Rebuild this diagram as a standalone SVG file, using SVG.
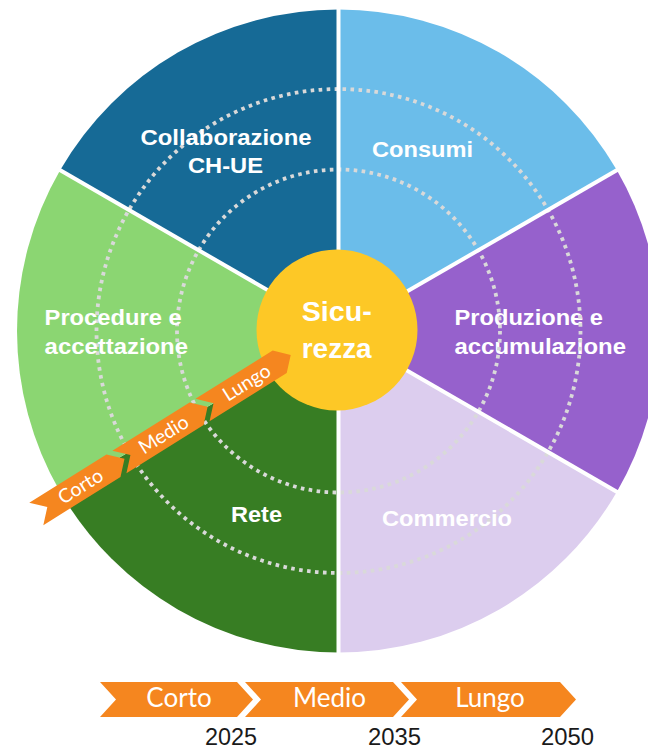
<svg xmlns="http://www.w3.org/2000/svg" width="648" height="750" viewBox="0 0 648 750">
<style>
.sep{stroke:#fff;stroke-width:4;fill:none}
.dot{fill:none;stroke:#d9d9d9;stroke-width:3.8;stroke-dasharray:3.6 4.4}
.lbl{font-family:"Liberation Sans",Arial,sans-serif;font-weight:bold;font-size:22px;fill:#fff}
.ctr{font-family:"Liberation Sans",Arial,sans-serif;font-weight:bold;font-size:27px;fill:#fff}
.chev{fill:#f5861f}
.ct{font-family:Lato,"Open Sans",sans-serif;font-size:26px;fill:#fff;text-anchor:middle}
.dt{font-family:Lato,"Open Sans",sans-serif;font-size:19.5px;fill:#fff;text-anchor:middle}
.yr{font-family:"Liberation Sans",Arial,sans-serif;font-size:23px;fill:#1a1a1a}
</style>
<rect width="648" height="750" fill="#fff"/>
<g id="sector-consumi">
<path d="M338.5,331 L338.5,9.5 A321.5,321.5 0 0 1 616.9,170.25 Z" fill="#6bbdea"/>
<text class="lbl" x="372" y="157" textLength="101" lengthAdjust="spacingAndGlyphs">Consumi</text>
</g>
<g id="sector-produzione">
<path d="M338.5,331 L616.9,170.25 A321.5,321.5 0 0 1 616.9,491.75 Z" fill="#9661cc"/>
<text class="lbl" x="454.5" y="325" textLength="148.5" lengthAdjust="spacingAndGlyphs">Produzione e</text>
<text class="lbl" x="454.5" y="354" textLength="171.5" lengthAdjust="spacingAndGlyphs">accumulazione</text>
</g>
<g id="sector-commercio">
<path d="M338.5,331 L616.9,491.75 A321.5,321.5 0 0 1 338.5,652.5 Z" fill="#dccdee"/>
</g>
<g id="sector-rete">
<path d="M338.5,331 L338.5,652.5 A321.5,321.5 0 0 1 60.1,491.75 Z" fill="#377d23"/>
</g>
<g id="sector-procedure">
<path d="M338.5,331 L60.1,491.75 A321.5,321.5 0 0 1 60.1,170.25 Z" fill="#8bd672"/>
</g>
<g id="sector-collaborazione">
<path d="M338.5,331 L60.1,170.25 A321.5,321.5 0 0 1 338.5,9.5 Z" fill="#166a96"/>
</g>
<g id="rings">
<circle class="dot" cx="338.5" cy="331" r="242"/>
<circle class="dot" cx="338.5" cy="331" r="161.5"/>
</g>
<g id="separators">
<line class="sep" x1="338.5" y1="331" x2="338.5" y2="8"/>
<line class="sep" x1="338.5" y1="331" x2="338.5" y2="654"/>
<line class="sep" x1="338.5" y1="331" x2="618" y2="169.6"/>
<line class="sep" x1="338.5" y1="331" x2="618" y2="492.4"/>
<line class="sep" x1="338.5" y1="331" x2="59" y2="169.6"/>
</g>
<g id="sector-labels">
<text class="lbl" x="140.5" y="145" textLength="171" lengthAdjust="spacingAndGlyphs">Collaborazione</text>
<text class="lbl" x="188" y="173" textLength="75" lengthAdjust="spacingAndGlyphs">CH-UE</text>
<text class="lbl" x="44.6" y="325" textLength="137" lengthAdjust="spacingAndGlyphs">Procedure e</text>
<text class="lbl" x="44.6" y="354" textLength="143.4" lengthAdjust="spacingAndGlyphs">accettazione</text>
<text class="lbl" x="231" y="522" textLength="51" lengthAdjust="spacingAndGlyphs">Rete</text>
<text class="lbl" x="382" y="526" textLength="130" lengthAdjust="spacingAndGlyphs">Commercio</text>
</g>
<g id="center">
<circle cx="337" cy="330" r="80.5" fill="#fdc826"/>
<text class="ctr" x="301.7" y="321" textLength="70" lengthAdjust="spacingAndGlyphs">Sicu-</text>
<text class="ctr" x="301.7" y="358" textLength="70" lengthAdjust="spacingAndGlyphs">rezza</text>
</g>
<g id="diagonal-arrow" transform="translate(36.3,513.9) rotate(-32)">
<polygon class="chev" points="0,-13.25 91,-13.25 104,0 91,13.25 0,13.25 13,0"/>
<polygon class="chev" points="98,-13.25 189,-13.25 202,0 189,13.25 98,13.25 111,0"/>
<polygon class="chev" points="196,-13.25 287,-13.25 300,0 287,13.25 196,13.25 209,0"/>
<text class="dt" x="52" y="6.8">Corto</text>
<text class="dt" x="150" y="6.8">Medio</text>
<text class="dt" x="248" y="6.8">Lungo</text>
</g>
<g id="timeline">
<polygon class="chev" points="100,682 237,682 253,699.5 237,717 100,717 116,699.5"/>
<polygon class="chev" points="245,682 393,682 409,699.5 393,717 245,717 261,699.5"/>
<polygon class="chev" points="401,682 560,682 576,699.5 560,717 401,717 417,699.5"/>
<text class="ct" x="179" y="707">Corto</text>
<text class="ct" x="329.5" y="707">Medio</text>
<text class="ct" x="490" y="707">Lungo</text>
</g>
<g id="years">
<text class="yr" x="205" y="745" textLength="52" lengthAdjust="spacingAndGlyphs">2025</text>
<text class="yr" x="368" y="745" textLength="53" lengthAdjust="spacingAndGlyphs">2035</text>
<text class="yr" x="541" y="745" textLength="53" lengthAdjust="spacingAndGlyphs">2050</text>
</g>
</svg>
